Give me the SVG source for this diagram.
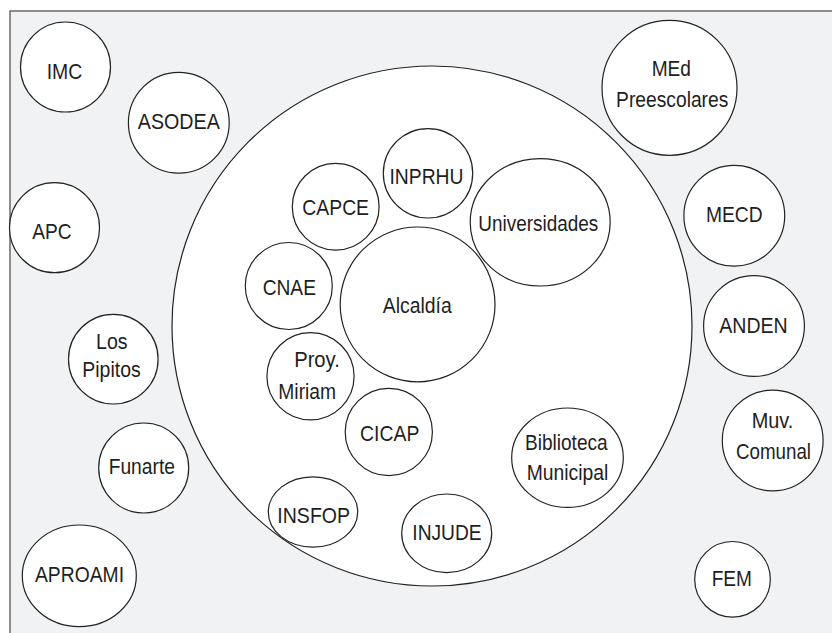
<svg xmlns="http://www.w3.org/2000/svg" width="832" height="633" viewBox="0 0 832 633">
<style>
.bg{fill:#f1f2f4;stroke:#555;stroke-width:1.3}
.n{fill:#fff;stroke:#222;stroke-width:1.2}
text{font-family:"Liberation Sans",Arial,sans-serif;font-size:22.5px;fill:#1e1e1e;text-anchor:middle}
</style>
<rect class="bg" x="10" y="11" width="840" height="640"/>
<g id="sector">
<circle class="n" cx="432" cy="326" r="260"/>
</g>
<g id="IMC"><circle class="n" cx="65.5" cy="67" r="45"/><text x="64.5" y="79" textLength="35.6" lengthAdjust="spacingAndGlyphs">IMC</text></g>
<g id="ASODEA"><circle class="n" cx="178.8" cy="122.8" r="50.4"/><text x="178.8" y="129" textLength="82" lengthAdjust="spacingAndGlyphs">ASODEA</text></g>
<g id="APC"><circle class="n" cx="54.5" cy="227.7" r="45"/><text x="52" y="239" textLength="39.3" lengthAdjust="spacingAndGlyphs">APC</text></g>
<g id="LosPipitos"><circle class="n" cx="113.3" cy="359.2" r="44.8"/><text x="111.8" y="348.7" textLength="31.5" lengthAdjust="spacingAndGlyphs">Los</text><text x="111.5" y="377" textLength="58.4" lengthAdjust="spacingAndGlyphs">Pipitos</text></g>
<g id="Funarte"><circle class="n" cx="143.7" cy="468" r="45"/><text x="141.8" y="474" textLength="66.3" lengthAdjust="spacingAndGlyphs">Funarte</text></g>
<g id="APROAMI"><ellipse class="n" cx="79.3" cy="575.8" rx="57" ry="50.8"/><text x="79.5" y="582" textLength="89" lengthAdjust="spacingAndGlyphs">APROAMI</text></g>
<g id="MEdPreescolares"><circle class="n" cx="669.5" cy="87.8" r="67.5"/><text x="671.3" y="76" textLength="39.3" lengthAdjust="spacingAndGlyphs">MEd</text><text x="672.2" y="107.3" textLength="112.3" lengthAdjust="spacingAndGlyphs">Preescolares</text></g>
<g id="MECD"><circle class="n" cx="734.3" cy="215.8" r="50.4"/><text x="734.3" y="222" textLength="56.7" lengthAdjust="spacingAndGlyphs">MECD</text></g>
<g id="ANDEN"><circle class="n" cx="754" cy="326" r="50.4"/><text x="753.5" y="333" textLength="68.4" lengthAdjust="spacingAndGlyphs">ANDEN</text></g>
<g id="MuvComunal"><circle class="n" cx="772.7" cy="440.5" r="50.4"/><text x="772.5" y="428" textLength="41.6" lengthAdjust="spacingAndGlyphs">Muv.</text><text x="773.5" y="458.5" textLength="75" lengthAdjust="spacingAndGlyphs">Comunal</text></g>
<g id="FEM"><circle class="n" cx="732.5" cy="579.3" r="37.8"/><text x="731.8" y="586" textLength="40.3" lengthAdjust="spacingAndGlyphs">FEM</text></g>
<g id="CAPCE"><circle class="n" cx="335.7" cy="206.7" r="43.4"/><text x="335.7" y="215" textLength="66.7" lengthAdjust="spacingAndGlyphs">CAPCE</text></g>
<g id="INPRHU"><circle class="n" cx="428" cy="173.3" r="44.7"/><text x="426.5" y="184" textLength="74" lengthAdjust="spacingAndGlyphs">INPRHU</text></g>
<g id="Universidades"><ellipse class="n" cx="540.2" cy="222.3" rx="70" ry="63.7"/><text x="538.3" y="230.5" textLength="120" lengthAdjust="spacingAndGlyphs">Universidades</text></g>
<g id="CNAE"><circle class="n" cx="288.8" cy="286" r="43.5"/><text x="289.3" y="295" textLength="53.3" lengthAdjust="spacingAndGlyphs">CNAE</text></g>
<g id="Alcaldia"><circle class="n" cx="417.6" cy="304.4" r="77.4"/><text x="417.2" y="312.5" textLength="69" lengthAdjust="spacingAndGlyphs">Alcaldía</text></g>
<g id="ProyMiriam"><circle class="n" cx="310.5" cy="376.3" r="43.6"/><text x="317" y="366.7" textLength="45.7" lengthAdjust="spacingAndGlyphs">Proy.</text><text x="307.2" y="399" textLength="57.7" lengthAdjust="spacingAndGlyphs">Miriam</text></g>
<g id="CICAP"><circle class="n" cx="388.8" cy="432" r="43.6"/><text x="389.7" y="441" textLength="59.3" lengthAdjust="spacingAndGlyphs">CICAP</text></g>
<g id="Biblioteca"><ellipse class="n" cx="567.5" cy="457.7" rx="55.8" ry="49.7"/><text x="566.3" y="449.5" textLength="82.7" lengthAdjust="spacingAndGlyphs">Biblioteca</text><text x="567.5" y="479.5" textLength="81.6" lengthAdjust="spacingAndGlyphs">Municipal</text></g>
<g id="INSFOP"><ellipse class="n" cx="313" cy="512" rx="44.7" ry="35.2"/><text x="313.7" y="523" textLength="72.7" lengthAdjust="spacingAndGlyphs">INSFOP</text></g>
<g id="INJUDE"><ellipse class="n" cx="446.7" cy="533.3" rx="45" ry="39.3"/><text x="447" y="540" textLength="69.4" lengthAdjust="spacingAndGlyphs">INJUDE</text></g>
</svg>
